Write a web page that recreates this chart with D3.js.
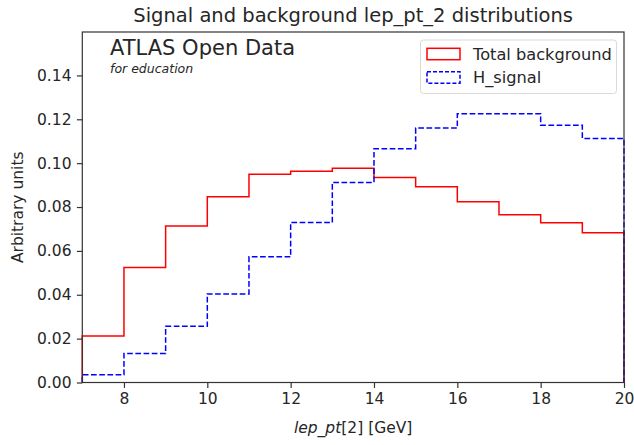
<!DOCTYPE html>
<html>
<head>
<meta charset="utf-8">
<script src="https://cdn.jsdelivr.net/npm/d3@7"></script>
<style>
  html, body { margin: 0; padding: 0; background: #fff; }
  svg { display: block; font-family: "DejaVu Sans", sans-serif; }
</style>
</head>
<body>
<svg id="chart" width="634" height="445"></svg>
<script>
// ---- data ----
const binEdges = [7, 8, 9, 10, 11, 12, 13, 14, 15, 16, 17, 18, 19, 20];
const background = [0.0212, 0.0524, 0.0714, 0.0847, 0.0950, 0.0963, 0.0977, 0.0935, 0.0893, 0.0824, 0.0765, 0.0728, 0.0683];
const signal = [0.0035, 0.0132, 0.0256, 0.0404, 0.0573, 0.0729, 0.0912, 0.1066, 0.1160, 0.1225, 0.1225, 0.1173, 0.1113];
const xTicks = [8, 10, 12, 14, 16, 18, 20];
const yTicks = [0.00, 0.02, 0.04, 0.06, 0.08, 0.10, 0.12, 0.14];
const seriesNames = ["Total background", "H_signal"];

// ---- layout ----
const svg = d3.select("#chart");
const L = 82.3, R = 624, T = 32, B = 382.5;
const x = d3.scaleLinear().domain([7, 20]).range([L, R]);
const y = d3.scaleLinear().domain([0, 0.1598]).range([B, T]);
const textColor = "#262626";
const fs = 15.5;

function stepPoints(vals) {
  const pts = [[binEdges[0], 0]];
  vals.forEach((v, i) => pts.push([binEdges[i], v]));
  pts.push([binEdges[binEdges.length - 1], vals[vals.length - 1]]);
  pts.push([binEdges[binEdges.length - 1], 0]);
  return pts;
}
const line = d3.line().x(d => x(d[0])).y(d => y(d[1])).curve(d3.curveStepAfter);

svg.append("path").attr("d", line(stepPoints(background)))
  .attr("fill", "none").attr("stroke", "#ff0000").attr("stroke-width", 1.5);
svg.append("path").attr("d", line(stepPoints(signal)))
  .attr("fill", "none").attr("stroke", "#0000ff").attr("stroke-width", 1.5)
  .attr("stroke-dasharray", "5.7,2.5");

// axes
const xAxis = d3.axisBottom(x).tickValues(xTicks).tickSize(5.4).tickPadding(5.4).tickFormat(d3.format("d"));
const yAxis = d3.axisLeft(y).tickValues(yTicks).tickSize(5.4).tickPadding(5.4).tickFormat(d3.format(".2f"));
const gx = svg.append("g").attr("transform", `translate(0,${B})`).call(xAxis);
const gy = svg.append("g").attr("transform", `translate(${L},0)`).call(yAxis);
[gx, gy].forEach(g => {
  g.select(".domain").remove();
  g.selectAll(".tick line").attr("stroke", "#333").attr("stroke-width", 1.2);
  g.selectAll(".tick text").attr("fill", textColor)
    .style("font-size", fs + "px").style("font-family", "DejaVu Sans, sans-serif");
});

// spines
svg.append("rect").attr("x", L).attr("y", T).attr("width", R - L).attr("height", B - T)
  .attr("fill", "none").attr("stroke", "#333").attr("stroke-width", 1.2);

// title
svg.append("text").attr("x", (L + R) / 2).attr("y", 21.5).attr("text-anchor", "middle")
  .attr("fill", textColor).style("font-size", "19.5px")
  .text("Signal and background lep_pt_2 distributions");

// axis labels
const xl = svg.append("text").attr("x", (L + R) / 2).attr("y", 433).attr("text-anchor", "middle")
  .attr("fill", textColor).style("font-size", fs + "px");
xl.append("tspan").style("font-style", "italic").text("lep_pt");
xl.append("tspan").text("[2] [GeV]");

svg.append("text").attr("transform", `translate(23,${(T + B) / 2}) rotate(-90)`)
  .attr("text-anchor", "middle").attr("fill", textColor).style("font-size", fs + "px")
  .text("Arbitrary units");

// ATLAS label
svg.append("text").attr("x", 110).attr("y", 55).attr("fill", textColor)
  .style("font-size", "21px").text("ATLAS Open Data");
svg.append("text").attr("x", 110).attr("y", 73).attr("fill", textColor)
  .style("font-size", "12.5px").style("font-style", "italic").text("for education");

// legend
const lg = svg.append("g");
lg.append("rect").attr("x", 420.5).attr("y", 40).attr("width", 196).attr("height", 53.5)
  .attr("rx", 3).attr("fill", "#fff").attr("fill-opacity", 0.8)
  .attr("stroke", "#d9d9d9").attr("stroke-width", 1);
const legendItems = [
  { name: seriesNames[0], color: "#ff0000", dash: null, cy: 54 },
  { name: seriesNames[1], color: "#0000ff", dash: "4,2", cy: 77.5 }
];
legendItems.forEach(it => {
  const r = lg.append("rect").attr("x", 427).attr("y", it.cy - 5.7).attr("width", 33).attr("height", 11.4)
    .attr("fill", "none").attr("stroke", it.color).attr("stroke-width", 1.5);
  if (it.dash) r.attr("stroke-dasharray", it.dash);
  lg.append("text").attr("x", 473).attr("y", it.cy).attr("dy", "0.36em")
    .attr("fill", textColor).style("font-size", "16.2px").text(it.name);
});
</script>
</body>
</html>
